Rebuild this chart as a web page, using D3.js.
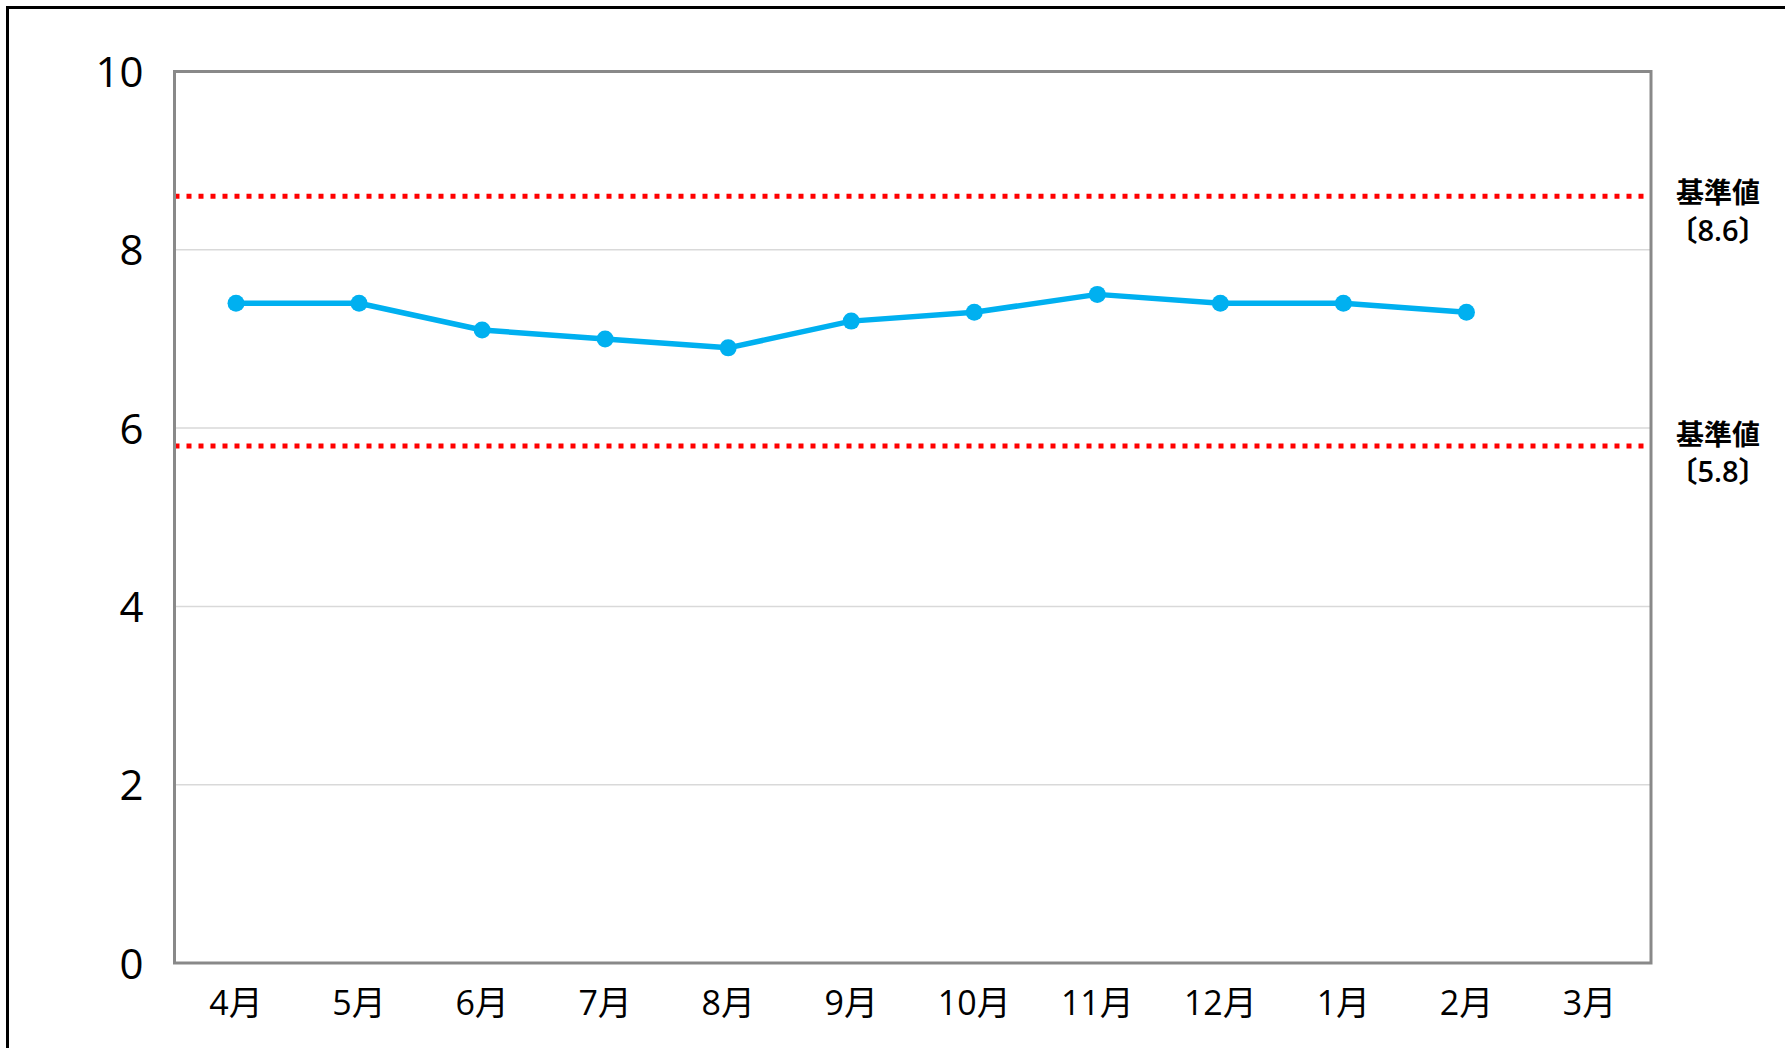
<!DOCTYPE html>
<html><head><meta charset="utf-8">
<script src="https://cdn.jsdelivr.net/npm/d3@7"></script>
<style>html,body{margin:0;padding:0;background:#fff;}svg{display:block;}</style>
</head><body>
<svg id="chart" width="1785" height="1048"></svg>
<script>
const months = ["4月","5月","6月","7月","8月","9月","10月","11月","12月","1月","2月","3月"];
const values = [7.4, 7.4, 7.1, 7.0, 6.9, 7.2, 7.3, 7.5, 7.4, 7.4, 7.3, null];
const yTicks = [0, 2, 4, 6, 8, 10];
const refValues = [8.6, 5.8];
const refTitle = "基準値";
const refLabels = ["〔8.6〕", "〔5.8〕"];

const W = 1785, H = 1048;
const m = {left: 174.5, right: 1651, top: 71.5, bottom: 963};
const svg = d3.select("#chart");
const font = "'Open Sans', 'Noto Sans CJK JP', sans-serif";

// outer frame
svg.append("rect").attr("x", 7.5).attr("y", 7.5).attr("width", W + 20).attr("height", H + 20)
  .attr("fill", "none").attr("stroke", "#000").attr("stroke-width", 3);

const x = d3.scaleBand().domain(months).range([m.left, m.right]);
const y = d3.scaleLinear().domain([0, 10]).range([m.bottom, m.top]);

// gridlines
svg.append("g").selectAll("line").data(yTicks.filter(t => t > 0 && t < 10)).join("line")
  .attr("x1", m.left).attr("x2", m.right)
  .attr("y1", d => y(d)).attr("y2", d => y(d))
  .attr("stroke", "#d9d9d9").attr("stroke-width", 1.5);

// y axis labels
const yAxis = d3.axisLeft(y).tickValues(yTicks).tickSize(0).tickPadding(31);
const yg = svg.append("g").attr("transform", `translate(${m.left},0)`).call(yAxis);
yg.select(".domain").remove();
yg.selectAll("text").attr("font-family", font).attr("font-size", 42).attr("fill", "#000").attr("dy", "0.36em");

// x axis labels
const xAxis = d3.axisBottom(x).tickSize(0).tickPadding(0);
const xg = svg.append("g").attr("transform", `translate(0,${m.bottom})`).call(xAxis);
xg.select(".domain").remove();
xg.selectAll("text").attr("font-family", font).attr("font-size", 34).attr("fill", "#000")
  .attr("y", 40).attr("dy", "0.36em");

// reference lines
svg.append("g").selectAll("line").data(refValues).join("line")
  .attr("x1", m.left).attr("x2", m.right)
  .attr("y1", d => y(d)).attr("y2", d => y(d))
  .attr("stroke", "#ff0000").attr("stroke-width", 5).attr("stroke-dasharray", "5,7");

// plot frame
svg.append("rect").attr("x", m.left).attr("y", m.top)
  .attr("width", m.right - m.left).attr("height", m.bottom - m.top)
  .attr("fill", "none").attr("stroke", "#898989").attr("stroke-width", 3);

// data line
const pts = months.map((mo, i) => ({mo, v: values[i]}));
const line = d3.line().defined(d => d.v != null)
  .x(d => x(d.mo) + x.bandwidth() / 2).y(d => y(d.v));
svg.append("path").datum(pts).attr("d", line)
  .attr("fill", "none").attr("stroke", "#00b0f0").attr("stroke-width", 5.5).attr("stroke-linejoin", "round");
svg.append("g").selectAll("circle").data(pts.filter(d => d.v != null)).join("circle")
  .attr("cx", d => x(d.mo) + x.bandwidth() / 2).attr("cy", d => y(d.v))
  .attr("r", 8.5).attr("fill", "#00b0f0");

// reference labels
const refOffsets = [-3, -11];
refValues.forEach((v, i) => {
  const yy = y(v) + refOffsets[i];
  const t = svg.append("text").attr("x", 1718).attr("text-anchor", "middle")
    .attr("font-family", font).attr("font-weight", "bold").attr("fill", "#000");
  t.append("tspan").attr("x", 1718).attr("y", yy).attr("dy", "0.36em").attr("font-size", 28).text(refTitle);
  t.append("tspan").attr("x", 1718).attr("y", yy + 37).attr("dy", "0.36em").attr("font-size", 29)
    .attr("font-weight", 600).text(refLabels[i]);
});
</script>
</body></html>
